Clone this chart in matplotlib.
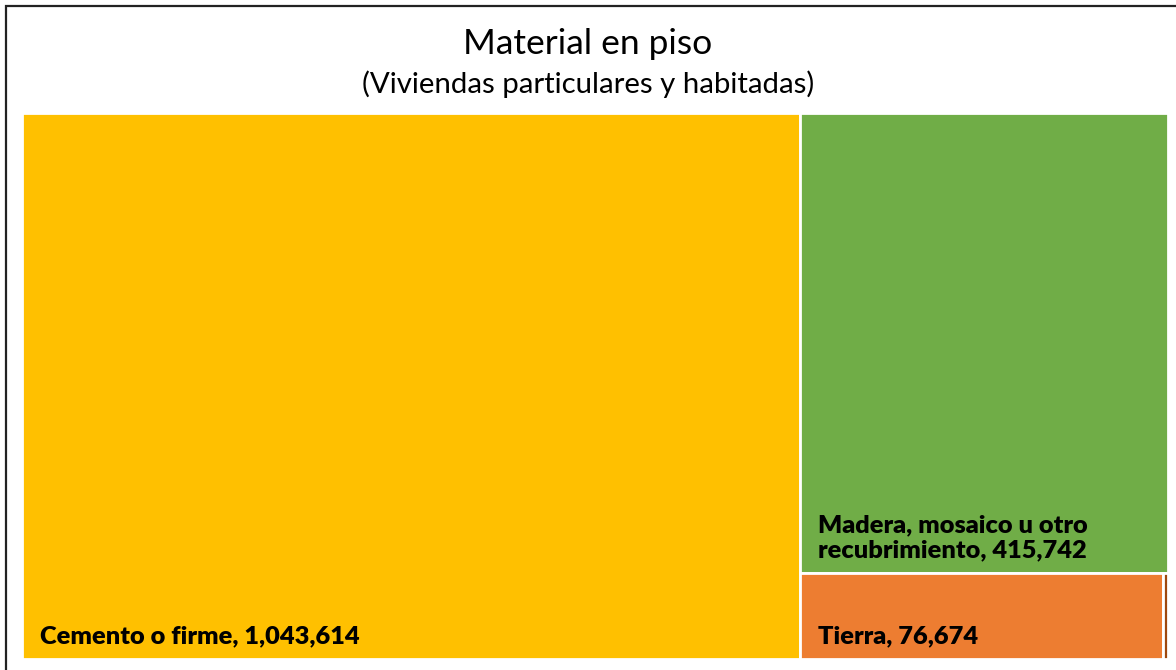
import matplotlib
matplotlib.use("Agg")
import matplotlib.pyplot as plt
from matplotlib.patches import Rectangle

# datos
categorias = ["Cemento o firme", "Madera, mosaico u otro\nrecubrimiento", "Tierra", "No especificado"]
valores = [1043614, 415742, 76674, 1000]
colores = ["#FFC000", "#70AD47", "#ED7D31", "#9E480E"]

titulo = "Material en piso"
subtitulo = "(Viviendas particulares y habitadas)"

plt.rcParams['font.family'] = ['Lato', 'DejaVu Sans']

W, H = 1146.0, 546.0  # tamaño del área del treemap (px)


def peor(fila, lado):
    s = sum(fila)
    return max(max(lado * lado * r / (s * s), (s * s) / (lado * lado * r)) for r in fila)


def squarify(areas, x, y, w, h):
    # algoritmo squarified clasico, devuelve (x, y, w, h) para cada area
    rects = []
    areas = list(areas)
    while areas:
        lado = min(w, h)
        fila = [areas.pop(0)]
        while areas and peor(fila + [areas[0]], lado) <= peor(fila, lado):
            fila.append(areas.pop(0))
        s = sum(fila)
        if w >= h:
            ancho = s / h
            yy = y + h
            for a in fila:
                alto = a / ancho
                yy -= alto
                rects.append((x, yy, ancho, alto))
            x += ancho
            w -= ancho
        else:
            alto = s / w
            xx = x
            for a in fila:
                ancho = a / alto
                rects.append((xx, y + h - alto, ancho, alto))
                xx += ancho
            h -= alto
    return rects


total = sum(valores)
areas = [v / total * W * H for v in valores]
rects = squarify(areas, 0, 0, W, H)

fig = plt.figure(figsize=(11.76, 6.70), dpi=100)
ax = fig.add_axes([22 / 1176, 11 / 670, W / 1176, H / 670])
ax.set_xlim(0, W)
ax.set_ylim(0, H)
ax.axis("off")

for (rx, ry, rw, rh), cat, val, col in zip(rects, categorias, valores, colores):
    ax.add_patch(Rectangle((rx, ry), rw, rh, facecolor=col, edgecolor="white", linewidth=2.0))
    if rw > 100:
        ax.text(rx + 18, ry + 12, f"{cat}, {val:,}", fontsize=18.3, fontweight="heavy",
                color="black", ha="left", va="bottom", linespacing=1.17)

fig.text(0.5, 1 - 44 / 670, titulo, ha="center", va="center", fontsize=25.5)
fig.text(0.5, 1 - 84 / 670, subtitulo, ha="center", va="center", fontsize=21.2)

# marco
fig.add_artist(Rectangle((6 / 1176, -0.1), 1.2, 1.1 - 6 / 670, transform=fig.transFigure,
                         fill=False, edgecolor="#222222", linewidth=1.6))

fig.savefig("out.png", dpi=100)
